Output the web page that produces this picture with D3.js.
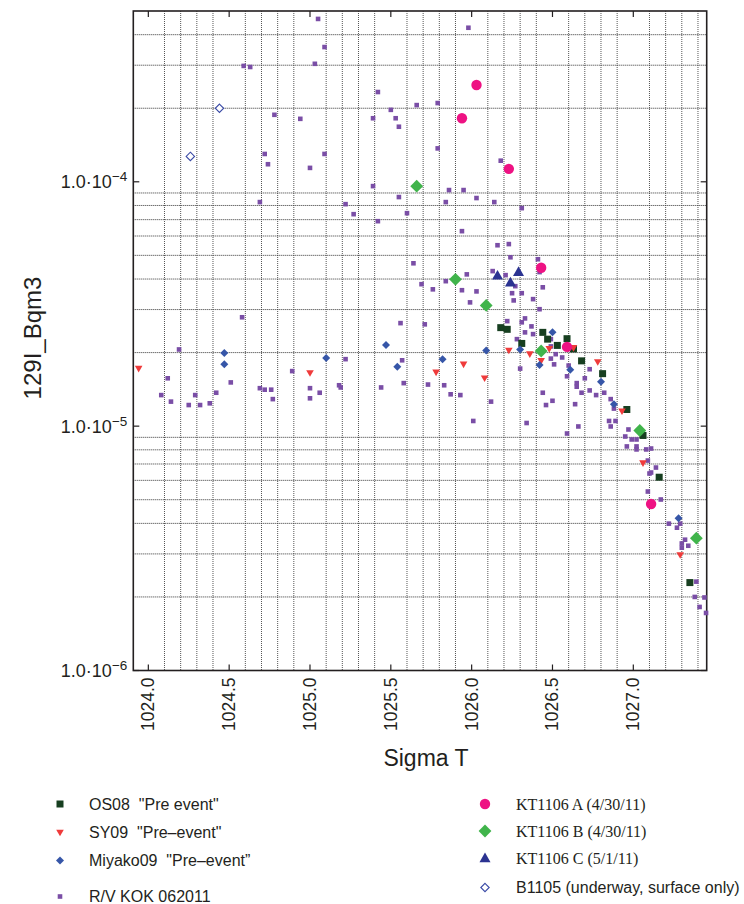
<!DOCTYPE html>
<html>
<head>
<meta charset="utf-8">
<script src="https://cdn.jsdelivr.net/npm/d3@7"></script>
<style>
  body { margin: 0; background: #fff; }
  svg text { font-family: "Liberation Sans", Arial, Helvetica, sans-serif; fill: #231f20; }
  svg text.serif { font-family: "Liberation Serif", "Times New Roman", serif; }
</style>
</head>
<body>
<svg id="chart" width="744" height="904"></svg>
<script>
// ---- data: [sigma T, 129I (Bq/m3)] ----
const kok062011 = [
  [1025.05,4.64e-4],[1025.09,3.56e-4],[1024.59,2.98e-4],[1024.63,2.95e-4],[1025.03,3.04e-4],
  [1025.42,2.33e-4],[1024.78,1.88e-4],[1024.94,1.81e-4],[1025.39,1.82e-4],[1024.72,1.30e-4],
  [1024.74,1.18e-4],[1025.09,1.30e-4],[1025.00,1.14e-4],[1025.39,9.60e-5],[1024.69,8.26e-5],
  [1025.22,8.10e-5],[1025.27,7.37e-5],[1025.42,6.90e-5],[1024.58,2.79e-5],[1024.19,2.06e-5],
  [1025.22,1.88e-5],[1025.98,4.27e-4],[1025.66,2.06e-4],[1025.79,2.10e-4],[1025.50,1.97e-4],
  [1025.53,1.82e-4],[1025.55,1.68e-4],[1025.79,1.37e-4],[1026.18,1.22e-4],[1025.86,9.25e-5],
  [1025.95,9.25e-5],[1025.55,8.66e-5],[1026.03,8.58e-5],[1025.84,8.26e-5],[1026.14,8.26e-5],
  [1025.60,7.44e-5],[1026.31,7.80e-5],[1025.94,6.28e-5],[1026.16,5.50e-5],[1026.23,5.56e-5],
  [1026.24,4.91e-5],[1026.41,4.82e-5],[1025.64,4.64e-5],[1026.13,4.31e-5],[1026.21,4.15e-5],
  [1025.97,4.18e-5],[1026.42,4.27e-5],[1025.84,3.92e-5],[1025.69,3.81e-5],[1026.27,3.74e-5],
  [1026.44,3.70e-5],[1025.76,3.63e-5],[1025.94,3.60e-5],[1026.03,3.56e-5],[1026.25,3.50e-5],
  [1026.31,3.50e-5],[1026.38,3.31e-5],[1026.26,3.27e-5],[1025.99,3.21e-5],[1026.42,3.01e-5],
  [1025.56,2.64e-5],[1025.71,2.61e-5],[1026.22,2.69e-5],[1026.33,2.76e-5],[1026.31,2.66e-5],
  [1026.37,2.56e-5],[1026.33,2.42e-5],[1026.38,2.38e-5],[1026.28,2.27e-5],[1025.57,1.86e-5],
  [1026.49,2.27e-5],[1026.49,2.12e-5],[1026.52,1.97e-5],[1026.49,1.89e-5],[1026.56,1.91e-5],
  [1026.51,1.79e-5],[1026.60,1.77e-5],[1026.30,1.72e-5],[1026.59,1.60e-5],[1026.70,1.57e-5],
  [1026.73,1.71e-5],[1026.65,1.50e-5],[1026.65,1.45e-5],[1026.68,1.37e-5],[1026.73,1.40e-5],
  [1026.77,1.34e-5],[1026.82,1.37e-5],[1026.44,1.37e-5],[1026.50,1.27e-5],[1026.46,1.22e-5],
  [1026.64,1.23e-5],[1026.86,1.29e-5],[1026.88,1.18e-5],[1026.85,1.05e-5],[1026.89,1.05e-5],
  [1026.86,9.97e-6],[1026.66,9.97e-6],[1026.59,9.33e-6],[1026.97,9.69e-6],[1026.95,9.07e-6],
  [1026.99,8.82e-6],[1027.02,8.82e-6],[1026.96,8.26e-6],[1027.02,8.26e-6],[1027.02,8.03e-6],
  [1027.08,8.03e-6],[1027.11,8.10e-6],[1027.09,7.23e-6],[1027.14,6.77e-6],[1027.11,6.46e-6],
  [1027.10,6.40e-6],[1025.44,1.44e-5],[1025.58,1.50e-5],[1025.73,1.48e-5],[1025.83,1.47e-5],
  [1025.87,1.35e-5],[1025.93,1.34e-5],[1026.12,1.26e-5],[1026.01,1.05e-5],[1026.34,1.03e-5],
  [1027.09,5.40e-6],[1027.17,5.01e-6],[1027.22,3.99e-6],[1027.27,3.84e-6],[1027.29,3.99e-6],
  [1027.32,3.43e-6],[1027.30,3.31e-6],[1027.30,3.18e-6],[1027.34,3.24e-6],[1027.39,2.31e-6],
  [1027.38,2.00e-6],[1027.44,1.99e-6],[1027.41,1.82e-6],[1027.45,1.72e-6],[1024.12,1.57e-5],
  [1024.08,1.34e-5],[1024.14,1.26e-5],[1024.25,1.22e-5],[1024.29,1.34e-5],[1024.32,1.22e-5],
  [1024.38,1.24e-5],[1024.42,1.37e-5],[1024.51,1.51e-5],[1024.69,1.43e-5],[1024.72,1.41e-5],
  [1024.76,1.41e-5],[1024.77,1.29e-5],[1024.89,1.68e-5],[1025.00,1.43e-5],[1025.00,1.30e-5],
  [1025.06,1.37e-5],[1025.18,1.47e-5],[1025.19,1.44e-5]
];

const os08 = [
  [1026.18,2.53e-5],[1026.22,2.49e-5],[1026.31,2.18e-5],[1026.44,2.42e-5],[1026.47,2.27e-5],
  [1026.53,2.14e-5],[1026.59,2.28e-5],[1026.63,2.07e-5],[1026.68,1.85e-5],[1026.81,1.64e-5],
  [1026.96,1.17e-5],[1027.06,9.16e-6],[1027.16,6.18e-6],[1027.35,2.29e-6]
];

const sy09 = [
  [1023.94,1.72e-5],[1025.00,1.65e-5],[1025.78,1.66e-5],[1025.95,1.79e-5],[1026.08,1.57e-5],
  [1026.23,2.04e-5],[1026.36,1.97e-5],[1026.43,1.85e-5],[1026.48,2.07e-5],[1026.63,2.09e-5],
  [1026.78,1.83e-5],[1026.93,1.15e-5],[1027.06,7.06e-6],[1027.29,2.97e-6]
];

const miyako09 = [
  [1024.47,1.99e-5],[1024.47,1.79e-5],[1025.10,1.90e-5],[1025.47,2.15e-5],[1025.54,1.75e-5],
  [1025.82,1.88e-5],[1026.09,2.04e-5],[1026.30,2.06e-5],[1026.50,2.42e-5],[1026.42,1.78e-5],
  [1026.61,1.70e-5],[1026.80,1.52e-5],[1026.88,1.23e-5],[1027.28,4.20e-6]
];

const kt1106A = [[1026.03,2.49e-4],[1025.94,1.82e-4],[1026.23,1.13e-4],[1026.43,4.45e-5],[1026.59,2.11e-5],[1027.11,4.80e-6]];
const kt1106B = [[1025.66,9.6e-5],[1025.90,3.99e-5],[1026.09,3.12e-5],[1026.43,2.03e-5],[1027.04,9.6e-6],[1027.39,3.48e-6]];
const kt1106C = [[1026.16,4.14e-5],[1026.29,4.28e-5],[1026.24,3.88e-5]];
const b1105 = [[1024.26,1.27e-4],[1024.44,2.0e-4]];

const xMajorTicks = [1024.0, 1024.5, 1025.0, 1025.5, 1026.0, 1026.5, 1027.0];
const yMajorTicks = [1e-6, 1e-5, 1e-4];

// series table: drawing order = purple first, then others on top
const series = [
  { name: "R/V KOK 062011", data: kok062011, shape: "square", size: 2.3, color: "#7a4ea6", serif: false, col: 0, row: 3 },
  { name: "OS08  \"Pre event\"", data: os08, shape: "square", size: 3.5, color: "#173f20", serif: false, col: 0, row: 0 },
  { name: "SY09  \"Pre\u2013event\"", data: sy09, shape: "triDown", size: 3.8, color: "#ef3b3b", serif: false, col: 0, row: 1 },
  { name: "Miyako09  \"Pre\u2013event\u201d", data: miyako09, shape: "diamond", size: 4, color: "#3656a8", serif: false, col: 0, row: 2 },
  { name: "KT1106 C (5/1/11)", data: kt1106C, shape: "triUp", size: 5.5, color: "#2b3391", serif: true, col: 1, row: 2 },
  { name: "KT1106 B (4/30/11)", data: kt1106B, shape: "diamond", size: 6.4, color: "#40b44b", serif: true, col: 1, row: 1 },
  { name: "KT1106 A (4/30/11)", data: kt1106A, shape: "circle", size: 5.2, color: "#ee1283", serif: true, col: 1, row: 0 },
  { name: "B1105 (underway, surface only)", data: b1105, shape: "openDiamond", size: 4.2, color: "#3a4aa6", serif: false, col: 1, row: 3 }
];

// ---- layout ----
const margin = { top: 11, left: 133.3, right: 706.7, bottom: 670.5 };
const svg = d3.select("#chart");

const x = d3.scaleLinear().domain([1023.907, 1027.454]).range([margin.left, margin.right]);
const y = d3.scaleLog().domain([1e-6, 5e-4]).range([margin.bottom, margin.top]);

// grid: minor positions only (every 0.1 except .0/.5, 2..9 per decade)
const xMinor = d3.range(1024.1, 1027.45, 0.1).map(v => Math.round(v * 10) / 10)
  .filter(v => Math.abs(v * 2 - Math.round(v * 2)) > 1e-6);
const yMinor = [];
[-6, -5, -4].forEach(k => d3.range(2, 10).forEach(m => {
  const v = m * Math.pow(10, k);
  if (v < 5e-4) yMinor.push(v);
}));

const grid = svg.append("g");
grid.selectAll("line.vx").data(xMinor).join("line")
  .attr("x1", d => x(d)).attr("x2", d => x(d))
  .attr("y1", margin.top).attr("y2", margin.bottom)
  .attr("stroke", "#555").attr("stroke-width", 1).attr("stroke-dasharray", "1,1");
grid.selectAll("line.hy").data(yMinor).join("line")
  .attr("x1", margin.left).attr("x2", margin.right)
  .attr("y1", d => y(d)).attr("y2", d => y(d))
  .attr("stroke", "#333").attr("stroke-width", 1).attr("stroke-dasharray", "1,1");

// frame
svg.append("rect")
  .attr("x", margin.left).attr("y", margin.top)
  .attr("width", margin.right - margin.left).attr("height", margin.bottom - margin.top)
  .attr("fill", "none").attr("stroke", "#231f20").attr("stroke-width", 1.6);

// major ticks, inward on all four sides
const tickLen = 6;
const ticks = svg.append("g").attr("stroke", "#231f20").attr("stroke-width", 1.2);
xMajorTicks.forEach(v => {
  ticks.append("line").attr("x1", x(v)).attr("x2", x(v)).attr("y1", margin.bottom).attr("y2", margin.bottom - tickLen);
  ticks.append("line").attr("x1", x(v)).attr("x2", x(v)).attr("y1", margin.top).attr("y2", margin.top + tickLen);
});
yMajorTicks.forEach(v => {
  ticks.append("line").attr("x1", margin.left).attr("x2", margin.left + tickLen).attr("y1", y(v)).attr("y2", y(v));
  ticks.append("line").attr("x1", margin.right).attr("x2", margin.right - tickLen).attr("y1", y(v)).attr("y2", y(v));
});

// x tick labels (rotated)
xMajorTicks.forEach(v => {
  svg.append("text")
    .attr("transform", `translate(${x(v) + 6},${margin.bottom + 7}) rotate(-90)`)
    .attr("text-anchor", "end")
    .attr("font-size", 17.5)
    .text(d3.format(".1f")(v));
});

// y tick labels 1.0·10^k
yMajorTicks.forEach(v => {
  const exp = Math.round(Math.log10(v));
  const t = svg.append("text")
    .attr("x", margin.left - 6).attr("y", y(v) + 6.5)
    .attr("text-anchor", "end")
    .attr("font-size", 18);
  t.append("tspan").text("1.0\u00b710");
  t.append("tspan").attr("font-size", 13.5).attr("dy", -7).text("\u2212" + Math.abs(exp));
});

// axis titles
svg.append("text")
  .attr("x", 426).attr("y", 766)
  .attr("text-anchor", "middle").attr("font-size", 23)
  .text("Sigma T");
svg.append("text")
  .attr("transform", "translate(41,338) rotate(-90)")
  .attr("text-anchor", "middle").attr("font-size", 24)
  .text("129I_Bqm3");

// marker shapes
function shapePath(shape, s) {
  if (shape === "square") return `M${-s},${-s}H${s}V${s}H${-s}Z`;
  if (shape === "circle") return `M${s},0A${s},${s} 0 1,1 ${-s},0A${s},${s} 0 1,1 ${s},0Z`;
  if (shape === "diamond" || shape === "openDiamond") return `M0,${-s}L${s},0L0,${s}L${-s},0Z`;
  if (shape === "triUp") return `M0,${-s}L${s},${s * 0.75}L${-s},${s * 0.75}Z`;
  if (shape === "triDown") return `M0,${s}L${s},${-s * 0.75}L${-s},${-s * 0.75}Z`;
}

function styleMarker(sel, s) {
  const open = s.shape === "openDiamond";
  sel.attr("d", shapePath(s.shape, s.size))
    .attr("fill", open ? "#fff" : s.color)
    .attr("stroke", open ? s.color : "none")
    .attr("stroke-width", open ? 1.1 : 0);
}

series.forEach(s => {
  svg.append("g").selectAll("path").data(s.data).join("path")
    .attr("transform", d => `translate(${x(d[0])},${y(d[1])})`)
    .call(styleMarker, s);
});

// legend
const legendCols = [{ mx: 60, tx: 89, rows: [804, 832.5, 860.5, 896.5] },
                    { mx: 485, tx: 516, rows: [804, 831, 858, 887.5] }];
series.forEach(s => {
  const c = legendCols[s.col];
  const cy = c.rows[s.row];
  svg.append("path")
    .attr("transform", `translate(${c.mx},${cy})`)
    .call(styleMarker, s);
  svg.append("text")
    .attr("class", s.serif ? "serif" : null)
    .attr("x", c.tx).attr("y", cy + 5.5)
    .attr("font-size", 16)
    .style("white-space", "pre")
    .text(s.name);
});
</script>
</body>
</html>
